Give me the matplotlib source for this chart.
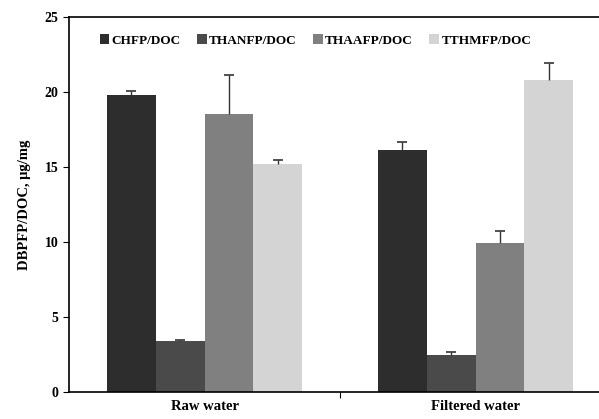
import numpy as np
import matplotlib.pyplot as plt

groups = ["Raw water", "Filtered water"]
series = ["CHFP/DOC", "THANFP/DOC", "THAAFP/DOC", "TTHMFP/DOC"]
values = [[19.8, 16.15],
          [3.4, 2.45],
          [18.5, 9.9],
          [15.2, 20.8]]
errors = [[0.25, 0.5],
          [0.07, 0.22],
          [2.65, 0.8],
          [0.25, 1.15]]
colors = ["#2d2d2d", "#4a4a4a", "#808080", "#d4d4d4"]

plt.rcParams['font.family'] = ['Liberation Serif', 'DejaVu Serif']
plt.rcParams['font.weight'] = 'bold'

fig = plt.figure(figsize=(5.99, 4.19), dpi=100)
# right side of the axes runs past the picture edge
ax = fig.add_axes([69/599, 1-392/419, 542/599, 375/419])

x = np.arange(len(groups))
w = 0.18
for i, s in enumerate(series):
    pos = x + (i - 1.5) * w
    ax.bar(pos, values[i], w, color=colors[i], label=s)
    # upper error bar only, cap on top
    top = np.array(values[i]) + np.array(errors[i])
    ax.vlines(pos, values[i], top, color="#333333", lw=1)
    ax.plot(pos, top, ls='none', marker='_', ms=7, mew=1.2, color="#333333")

ax.set_xlim(-0.5, 1.5)
ax.set_ylim(0, 25)
ax.set_yticks([0, 5, 10, 15, 20, 25])
ax.set_xticks([0.5])
ax.set_xticklabels([""])
ax.set_xticks(x, minor=True)
ax.set_xticklabels(groups, minor=True, fontsize=10.5, fontweight='bold')
ax.tick_params(axis='x', which='minor', length=0, pad=6)
ax.tick_params(axis='x', which='major', length=4, direction='out')
ax.tick_params(axis='y', direction='out', length=4, labelsize=10)
for lab in ax.get_yticklabels():
    lab.set_fontweight('bold')
for sp in ax.spines.values():
    sp.set_linewidth(1.2)
ax.spines['right'].set_visible(False)

ax.set_ylabel("DBPFP/DOC, \u03bcg/mg", fontsize=10.5, fontweight='bold', labelpad=10)

ax.legend(loc='upper left', bbox_to_anchor=(0.035, 0.985), ncol=4, frameon=False,
          handlelength=0.7, handleheight=0.7, handletextpad=0.2, columnspacing=1.25,
          prop={'size': 9.5, 'weight': 'bold'})

fig.savefig("out.png", dpi=100)
